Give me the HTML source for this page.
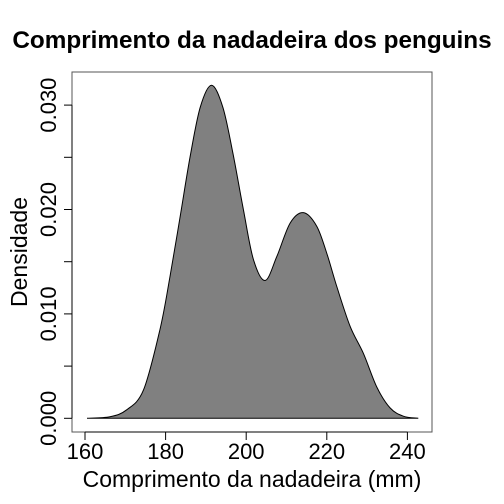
<!DOCTYPE html>
<html><head><meta charset="utf-8"><style>
html,body{margin:0;padding:0;background:#fff;}
svg{display:block;font-family:"Liberation Sans",Arial,sans-serif;}
</style></head><body>
<svg id="chart" width="504" height="504" viewBox="0 0 504 504">
<text x="252" y="48" text-anchor="middle" font-size="24.3" font-weight="bold">Comprimento da nadadeira dos penguins</text>
<rect x="72" y="72" width="360" height="360" fill="none" stroke="#555" stroke-width="1"/>
<g id="area"></g>
<g id="xaxis"></g>
<g id="yaxis"></g>
<text x="252" y="487" text-anchor="middle" font-size="23">Comprimento da nadadeira (mm)</text>
<text transform="translate(27,252) rotate(-90)" text-anchor="middle" font-size="23">Densidade</text>
</svg>
<script>
const xs = [160.5,166.2,170.3,174.5,178.6,181.1,183.6,186.1,188.6,191.4,194.2,196.7,199.3,201.8,204.7,207.6,210.9,214.2,217.5,220,222.5,225.8,229.1,232.4,235.7,239,242.7];
const dens = [0,0.00015,0.0008,0.0027,0.0085,0.0136,0.0193,0.0251,0.0298,0.0319,0.0298,0.0254,0.0200,0.0152,0.0132,0.0155,0.0187,0.0197,0.0184,0.0158,0.0126,0.0088,0.0062,0.0030,0.0010,0.0002,0];
const xTicks = [160,180,200,220,240];
const yTicks = [0,0.005,0.010,0.015,0.020,0.025,0.030];
const yLabels = ["0.000","","0.010","","0.020","","0.030"];

const NS="http://www.w3.org/2000/svg";
const X = v => 85 + (v-160)*4.03;
const Y = v => 418.3 - v*10440;
function mk(tag, attrs, parent){const e=document.createElementNS(NS,tag);for(const k in attrs)e.setAttribute(k,attrs[k]);parent.appendChild(e);return e;}

const pts = xs.map((x,i)=>[X(x),Y(dens[i])]);
let d = "M"+pts[0][0]+","+pts[0][1];
for(let i=0;i<pts.length-1;i++){
  const p0=pts[Math.max(0,i-1)],p1=pts[i],p2=pts[i+1],p3=pts[Math.min(pts.length-1,i+2)];
  const c1=[p1[0]+(p2[0]-p0[0])/6,p1[1]+(p2[1]-p0[1])/6];
  const c2=[p2[0]-(p3[0]-p1[0])/6,p2[1]-(p3[1]-p1[1])/6];
  d+=" C"+c1[0]+","+Math.min(c1[1],418.3)+" "+c2[0]+","+Math.min(c2[1],418.3)+" "+p2[0]+","+p2[1];
}
const area=document.getElementById('area');
const poly = mk('path',{d:d+" Z",fill:"#808080",stroke:"#000","stroke-width":"1"},area);



const xa=document.getElementById('xaxis');
mk('line',{x1:X(xTicks[0]),x2:X(xTicks[xTicks.length-1]),y1:432,y2:432,stroke:"#000"},xa);
xTicks.forEach(t=>{
  mk('line',{x1:X(t),x2:X(t),y1:432,y2:440,stroke:"#000"},xa);
  const tx=mk('text',{x:X(t),y:459,"text-anchor":"middle","font-size":"22"},xa);
  tx.textContent=t;
  
  
});
const ya=document.getElementById('yaxis');
mk('line',{x1:72,x2:72,y1:Y(yTicks[0]),y2:Y(yTicks[yTicks.length-1]),stroke:"#000"},ya);
yTicks.forEach((t,i)=>{
  mk('line',{x1:64,x2:72,y1:Y(t),y2:Y(t),stroke:"#000"},ya);
  if(yLabels[i]){
    const tx=mk('text',{transform:"translate(56,"+Y(t)+") rotate(-90)","text-anchor":"middle","font-size":"22"},ya);
    tx.textContent=yLabels[i];
    
    
  }
});
</script>
</body></html>
